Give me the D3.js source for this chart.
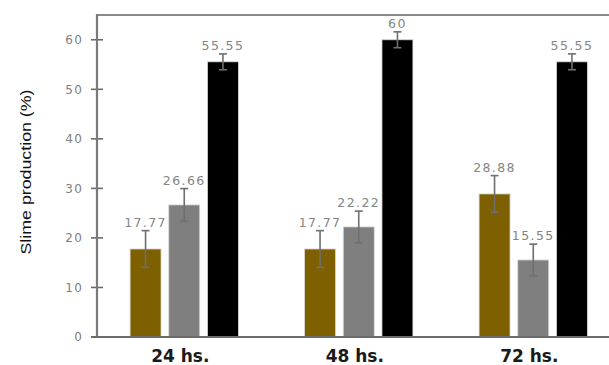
<!DOCTYPE html>
<html><head><meta charset="utf-8">
<script src="https://cdn.jsdelivr.net/npm/d3@7"></script>
<style>body{margin:0;background:#fff}svg{display:block}</style>
</head><body>
<svg id="c" width="609" height="365"></svg>
<script>
const categories = ["24 hs.", "48 hs.", "72 hs."];
const series = ["s1", "s2", "s3"];
const seriesColors = ["#7f6000", "#7f7f7f", "#000000"];
const values1 = [17.77, 17.77, 28.88];
const values2 = [26.66, 22.22, 15.55];
const values3 = [55.55, 60, 55.55];
const errors1 = [3.7, 3.7, 3.7];
const errors2 = [3.3, 3.2, 3.2];
const errors3 = [1.6, 1.6, 1.6];
const labels1 = ["17.77", "17.77", "28.88"];
const labels2 = ["26.66", "22.22", "15.55"];
const labels3 = ["55.55", "60", "55.55"];
const yTicks = [0, 10, 20, 30, 40, 50, 60];
const yTitle = "Slime production (%)";

(function () {
const allVals = [values1, values2, values3];
const allErr = [errors1, errors2, errors3];
const allLab = [labels1, labels2, labels3];

const svg = d3.select("#c");
const mLeft = 97, mTop = 15, mBottom = 337;
const y = d3.scaleLinear().domain([0, 65]).range([mBottom, mTop]);
const x0 = d3.scaleBand().domain(categories).range([mLeft, 620.5]).padding(0);
const x1 = d3.scaleBand().domain(series).range([0, x0.bandwidth()]).paddingInner(0.2).paddingOuter(0.855);

const data = [];
categories.forEach((c, i) => series.forEach((s, j) => data.push({
  c, s, j, v: allVals[j][i], e: allErr[j][i], lab: allLab[j][i]
})));

// frame
svg.append("line").attr("x1", mLeft).attr("x2", 609).attr("y1", mTop).attr("y2", mTop)
  .attr("stroke", "#8a8a8a").attr("stroke-width", 2);

// value labels (behind bars)
svg.append("g").selectAll("text").data(data).join("text")
  .attr("x", d => x0(d.c) + x1(d.s) + x1.bandwidth() / 2)
  .attr("y", d => y(d.v + d.e) - 4)
  .attr("text-anchor", "middle")
  .attr("font-family", "DejaVu Sans")
  .attr("font-size", 12.5)
  .attr("letter-spacing", 1.4)
  .attr("fill", "#858585")
  .text(d => d.lab);

// bars
svg.append("g").selectAll("rect").data(data).join("rect")
  .attr("x", d => x0(d.c) + x1(d.s))
  .attr("y", d => y(d.v))
  .attr("width", x1.bandwidth())
  .attr("height", d => y(0) - y(d.v))
  .attr("fill", d => seriesColors[d.j])
  .attr("stroke", "#d8d8d8").attr("stroke-width", 0.8);

// error bars
const eg = svg.append("g").attr("stroke", "#6f6f6f").attr("stroke-width", 1.6);
data.forEach(d => {
  const cx = x0(d.c) + x1(d.s) + x1.bandwidth() / 2;
  eg.append("line").attr("x1", cx).attr("x2", cx).attr("y1", y(d.v + d.e)).attr("y2", y(d.v - d.e));
  eg.append("line").attr("x1", cx - 4).attr("x2", cx + 4).attr("y1", y(d.v + d.e)).attr("y2", y(d.v + d.e));
  eg.append("line").attr("x1", cx - 4).attr("x2", cx + 4).attr("y1", y(d.v - d.e)).attr("y2", y(d.v - d.e));
});

// y axis
const yAxis = d3.axisLeft(y).tickValues(yTicks).tickSize(0).tickPadding(14);
const ya = svg.append("g").attr("transform", `translate(${mLeft},0)`).call(yAxis);
ya.select(".domain").remove();
ya.selectAll("text").attr("font-family", "DejaVu Sans").attr("font-size", 12)
  .attr("letter-spacing", 1.2).attr("fill", "#808080");
svg.append("g").selectAll("line").data(yTicks).join("line")
  .attr("x1", mLeft - 6).attr("x2", mLeft + 6)
  .attr("y1", d => y(d)).attr("y2", d => y(d))
  .attr("stroke", "#6a6a6a").attr("stroke-width", 1.6);
svg.append("line").attr("x1", mLeft).attr("x2", mLeft).attr("y1", mTop - 1).attr("y2", mBottom)
  .attr("stroke", "#7a7a7a").attr("stroke-width", 2.2);

// x axis
svg.append("line").attr("x1", mLeft - 6).attr("x2", 609).attr("y1", mBottom).attr("y2", mBottom)
  .attr("stroke", "#6a6a6a").attr("stroke-width", 1.8);
const xAxis = d3.axisBottom(x0).tickSize(0).tickPadding(0);
const xa = svg.append("g").attr("transform", `translate(0,${mBottom})`).call(xAxis);
xa.select(".domain").remove();
xa.selectAll("text").attr("font-family", "DejaVu Sans").attr("font-weight", "bold")
  .attr("font-size", 17).attr("fill", "#1a1a1a").attr("dy", null).attr("y", 25).attr("dx", -4);

// y title
svg.append("text").attr("transform", "translate(31,172) rotate(-90)")
  .attr("text-anchor", "middle")
  .attr("font-family", "Liberation Sans Narrow, Liberation Sans, sans-serif")
  .attr("font-size", 15).attr("fill", "#111")
  .attr("textLength", 165).attr("lengthAdjust", "spacingAndGlyphs")
  .text(yTitle);
})();
</script>
</body></html>
